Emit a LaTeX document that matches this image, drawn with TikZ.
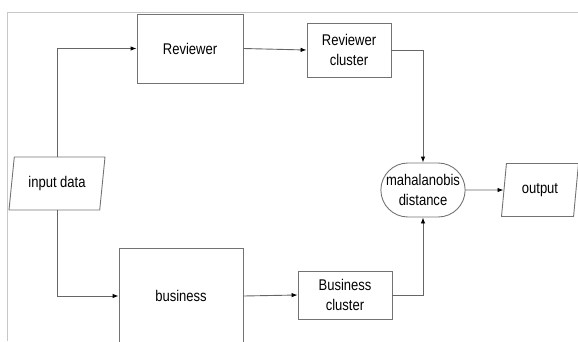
\documentclass[tikz,border=0pt]{standalone}
\usepackage{fontspec}
\setmainfont{Liberation Sans}[FakeStretch=0.84]
\usetikzlibrary{arrows.meta, positioning, shapes.geometric, shapes.misc}

\begin{document}
\begin{tikzpicture}[
        x=1pt, y=-1pt,
        font=\fontsize{15.5}{20.5}\selectfont,
        box/.style={draw=black!55, line width=0.9pt, align=center, inner sep=2pt},
        proc/.style={box, minimum width=106pt, minimum height=69pt},
        cluster/.style={box, minimum width=84pt, minimum height=54pt},
        io/.style={box, trapezium, trapezium left angle=74, trapezium right angle=106,
                   trapezium stretches body, minimum height=53pt},
        term/.style={box, rounded rectangle, minimum width=84pt, minimum height=54pt,
                     inner xsep=0pt},
        flow/.style={draw=black!60, line width=0.9pt, -{Latex[length=6pt, width=4.5pt, black]}}
    ]

    \useasboundingbox (0,0) rectangle (578,341);
    \clip (0,0) rectangle (578,341);

    % Marco
    \draw[black!22, line width=0.8pt] (7,341) |- (578,12);

    % --- Entrada y ramas ---
    \node[io, minimum width=96pt] (input) at (57,183.5) {input data};
    \node[proc] (reviewer) at (190,48.5) {Reviewer};
    \node[proc, minimum width=124pt, minimum height=96pt] (business) at (181,296) {business};
    \draw[flow] (input.north) |- (reviewer.west);
    \draw[flow] (input.south) |- (business.west);

    % --- Clusters ---
    \node[cluster] (revclus) at (349,50) {Reviewer\\cluster};
    \node[cluster, minimum width=94pt, minimum height=48pt] (busclus) at (345,295) {Business\\cluster};
    \draw[flow] (reviewer.east) -- (revclus.west);
    \draw[flow] (business.east) -- (busclus.west);

    % --- Distancia y salida ---
    \node[term] (mahal) at (423,190) {mahalanobis\\distance};
    \node[io, minimum width=77pt] (output) at (540,190) {output};
    \draw[flow] (revclus.east) -| (mahal.north);
    \draw[flow] (busclus.east) -| (mahal.south);
    \draw[flow] (mahal.east) -- (output.west);

\end{tikzpicture}
\end{document}
